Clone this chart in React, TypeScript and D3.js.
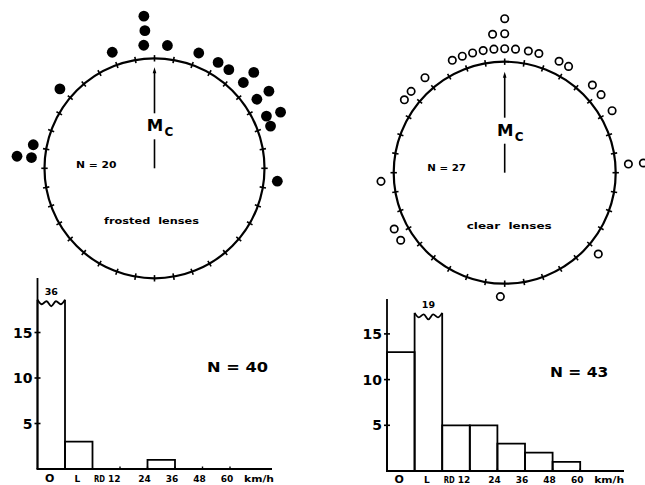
import React from 'react';
import * as d3 from 'd3';

// ---- circular (orientation) data: compass bearing in degrees, stacking ring (0 = next to circle)
const FROSTED_ANGLES = [356, 356, 355, 6, 340, 21, 31, 37, 46, 46, 56, 56, 66, 65, 70, 310, 281, 275, 275, 96];
const FROSTED_RINGS = [2, 1, 0, 0, 0, 0, 0, 0, 1, 0, 1, 0, 1, 0, 0, 0, 0, 1, 0, 0];
const CLEAR_ANGLES = [0, 355, 0, 335, 340, 345, 350, 355, 0, 5, 11, 16, 26, 31, 320, 311, 306, 45, 51, 60, 86, 86, 266, 243, 237, 131, 182];
const CLEAR_RINGS = [2, 1, 1, 0, 0, 0, 0, 0, 0, 0, 0, 0, 0, 0, 0, 0, 0, 0, 0, 0, 0, 1, 0, 0, 0, 0, 0];

// ---- histogram data
const BIN_NAMES = ['O', 'L', 'RD-12', '12-24', '24-36', '36-48', '48-60'];
const FROSTED_COUNTS = [36, 3, 0, 0, 1, 0, 0];
const CLEAR_COUNTS = [13, 19, 5, 5, 3, 2, 1];
const Y_TICKS = [5, 10, 15];
const CAT_LABELS = ['O', 'L']; // centred in their bins
const EDGE_LABELS = ['12', '24', '36', '48', '60']; // at bin edges 3..7
const TICK_DEGREES = d3.range(0, 360, 10);

const FONT = "'DejaVu Sans', 'Liberation Sans', Arial, sans-serif";

type RoseProps = {
  cx: number; cy: number; r: number;
  angles: number[]; rings: number[];
  filled: boolean; ring0: number; ringStep: number; dotR: number;
  nText: string; nX: number; nY: number; nLen: number;
  lens: string; lensX: number; lensY: number; lensLen: number;
};

function Rose(p: RoseProps) {
  const ang = d3.scaleLinear().domain([0, 360]).range([0, 2 * Math.PI]);
  const rad = d3.scaleLinear().domain([0, 1]).range([p.r + p.ring0, p.r + p.ring0 + p.ringStep]);
  const pt = (a: number, rr: number): [number, number] => [
    p.cx + rr * Math.sin(ang(a)),
    p.cy - rr * Math.cos(ang(a)),
  ];
  const arrowTop = p.cy - 101;
  return (
    <g>
      <circle cx={p.cx} cy={p.cy} r={p.r} fill="none" stroke="#000" strokeWidth={2.2} />
      {TICK_DEGREES.map((d) => {
        const [x1, y1] = pt(d, p.r - 3.2);
        const [x2, y2] = pt(d, p.r + 3.2);
        return <line key={d} x1={x1} y1={y1} x2={x2} y2={y2} stroke="#000" strokeWidth={1.6} />;
      })}
      {p.angles.map((a, i) => {
        const [x, y] = pt(a, rad(p.rings[i]));
        return p.filled ? (
          <circle key={i} cx={x} cy={y} r={p.dotR} fill="#000" />
        ) : (
          <circle key={i} cx={x} cy={y} r={p.dotR} fill="#fff" stroke="#000" strokeWidth={1.7} />
        );
      })}
      {/* mean vector arrow */}
      <line x1={p.cx} y1={arrowTop + 4} x2={p.cx} y2={p.cy - 55} stroke="#000" strokeWidth={1.6} />
      <path d={`M${p.cx},${arrowTop} L${p.cx - 1.8},${arrowTop + 6} L${p.cx + 1.8},${arrowTop + 6} Z`} fill="#000" />
      <line x1={p.cx} y1={p.cy - 29} x2={p.cx} y2={p.cy} stroke="#000" strokeWidth={1.6} />
      <text x={p.cx + 0.5} y={p.cy - 37} textAnchor="middle" fontFamily={FONT} fontWeight="bold" fontSize={15}
        textLength={16.5} lengthAdjust="spacingAndGlyphs">M</text>
      <text x={p.cx + 10} y={p.cy - 32} fontFamily={FONT} fontWeight="bold" fontSize={12}>C</text>
      <text x={p.nX} y={p.nY} fontFamily={FONT} fontWeight="bold" fontSize={9}
        textLength={p.nLen} lengthAdjust="spacingAndGlyphs">{p.nText}</text>
      <text x={p.lensX} y={p.lensY} fontFamily={FONT} fontWeight="bold" fontSize={9.5}
        textLength={p.lensLen} lengthAdjust="spacingAndGlyphs" style={{ whiteSpace: 'pre' }}>{p.lens}</text>
    </g>
  );
}

type HistProps = {
  x0: number; w: number; base: number; unit: number;
  counts: number[]; capValue: number; axisTop: number; axisEnd: number; labelY: number;
  nText: string; nX: number; nY: number; nLen: number;
};

const WAVE = [[0, 0], [0.15, 4.5], [0.33, 1.5], [0.5, 6.5], [0.67, 1.5], [0.85, 4.5], [1, 0]];

function Hist(p: HistProps) {
  const x = d3.scaleLinear().domain([0, 1]).range([p.x0, p.x0 + p.w]);
  const y = d3.scaleLinear().domain([0, 15]).range([p.base, p.base - 15 * p.unit]);
  const waveLine = d3.line<[number, number]>().curve(d3.curveCatmullRom);
  const lbl = { fontFamily: FONT, fontWeight: 'bold' as const };
  const labelY = p.labelY;
  const sw = 1.8;
  return (
    <g>
      {/* y axis */}
      <line x1={p.x0} y1={p.axisTop} x2={p.x0} y2={p.base} stroke="#000" strokeWidth={sw} />
      {Y_TICKS.map((t) => (
        <g key={t}>
          <line x1={p.x0 - 3} x2={p.x0 + 3} y1={y(t)} y2={y(t)} stroke="#000" strokeWidth={1.6} />
          <text x={p.x0 - 5} y={y(t) + 5} textAnchor="end" fontSize={14} {...lbl}>{t}</text>
        </g>
      ))}
      {/* bars */}
      {p.counts.map((c, i) => {
        if (c <= 0) return null;
        const xl = x(i), xr = x(i + 1);
        const broken = c > p.capValue;
        const top = y(Math.min(c, p.capValue));
        if (broken) {
          const pts = WAVE.map(([t, o]) => [xl + t * (xr - xl), top + o] as [number, number]);
          return (
            <g key={BIN_NAMES[i]}>
              <path d={`M${xl},${p.base} V${top}`} stroke="#000" strokeWidth={sw} fill="none" />
              <path d={waveLine(pts) as string} stroke="#000" strokeWidth={sw} fill="none" />
              <path d={`M${xr},${top} V${p.base}`} stroke="#000" strokeWidth={sw} fill="none" />
              <text x={(xl + xr) / 2} y={top - 4.5} textAnchor="middle" fontSize={9.5} {...lbl}>{c}</text>
            </g>
          );
        }
        const d = `M${xl},${p.base} V${top} H${xr} V${p.base}`;
        return <path key={BIN_NAMES[i]} d={d} stroke="#000" strokeWidth={sw} fill="none" />;
      })}
      {/* x axis */}
      <line x1={p.x0 - 1} x2={p.axisEnd} y1={p.base} y2={p.base} stroke="#000" strokeWidth={2} />
      {d3.range(3, 8).map((e) => (
        <line key={e} x1={x(e)} x2={x(e)} y1={p.base} y2={p.base - 2.5} stroke="#000" strokeWidth={1.4} />
      ))}
      {CAT_LABELS.map((s, i) => (
        <text key={s} x={x(i + 0.5) - 1.5} y={labelY} textAnchor="middle"
          fontSize={s === 'O' ? 11 : 9} {...lbl}>{s}</text>
      ))}
      <text x={x(2) + 1.5} y={labelY} fontSize={8.5} {...lbl} textLength={11} lengthAdjust="spacingAndGlyphs">RD</text>
      {EDGE_LABELS.map((s, i) => (
        <text key={s} x={i === 0 ? x(3) + 0.5 : x(i + 3) - 3} y={labelY} textAnchor={i === 0 ? 'end' : 'middle'}
          fontSize={9} {...lbl}>{s}</text>
      ))}
      <text x={x(7) + 14} y={labelY} fontSize={9} {...lbl} textLength={30} lengthAdjust="spacingAndGlyphs">km/h</text>
      <text x={p.nX} y={p.nY} fontSize={13.5} {...lbl} textLength={p.nLen} lengthAdjust="spacingAndGlyphs">{p.nText}</text>
    </g>
  );
}

export default function App() {
  return (
    <svg width={645} height={485} viewBox="0 0 645 485"
      style={{ position: 'absolute', left: 0, top: 0, background: '#fff' }}>
      <rect x={0} y={0} width={645} height={485} fill="#fff" />
      <Rose cx={154.5} cy={168.3} r={110} angles={FROSTED_ANGLES} rings={FROSTED_RINGS} filled
        ring0={13.5} ringStep={14.5} dotR={5.4}
        nText="N = 20" nX={76} nY={168.3} nLen={40.5}
        lens="frosted  lenses" lensX={104} lensY={224} lensLen={95} />
      <Rose cx={504.7} cy={172.7} r={111} angles={CLEAR_ANGLES} rings={CLEAR_RINGS} filled={false}
        ring0={13} ringStep={15} dotR={3.7}
        nText="N = 27" nX={427.3} nY={170.5} nLen={38.7}
        lens="clear  lenses" lensX={466.7} lensY={229} lensLen={85} />
      <Hist x0={37.5} w={27.5} base={469} unit={9.1} counts={FROSTED_COUNTS} capValue={18.6}
        axisTop={278} axisEnd={272} labelY={482} nText="N = 40" nX={207} nY={371.7} nLen={61} />
      <Hist x0={387} w={27.6} base={471} unit={9.14} counts={CLEAR_COUNTS} capValue={17.3}
        axisTop={299} axisEnd={624} labelY={482.5} nText="N = 43" nX={550} nY={376.7} nLen={58.3} />
    </svg>
  );
}
